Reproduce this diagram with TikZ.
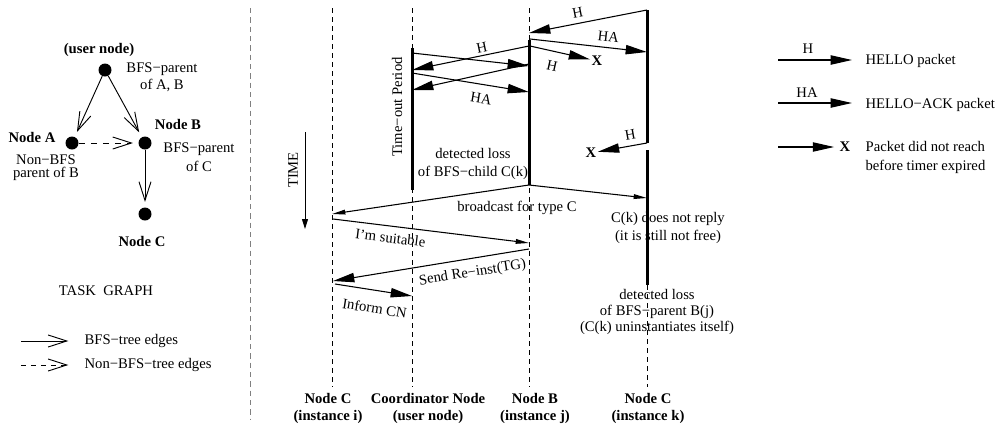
\documentclass[tikz,border=0pt]{standalone}
\usepackage{fontspec}
\setmainfont{Liberation Serif}
\usetikzlibrary{arrows.meta}
\begin{document}
\begin{tikzpicture}[x=0.75pt,y=-0.75pt,
  every node/.style={inner sep=1pt, font=\fontsize{11}{13.5}\selectfont},
  txt/.style={align=center},
  bsty/.style={align=center, font=\fontsize{11}{12.75}\selectfont\bfseries},
  tdot/.style={circle, fill=black, minimum size=9.75pt, inner sep=0pt},
  life/.style={line width=0.6pt, dash pattern=on 3.75pt off 3pt},
  act/.style={line width=2.25pt},
  msg/.style={line width=0.8pt},
  bighead/.style={msg, -{Triangle[length=16pt,width=7pt]}},
  smallhead/.style={msg, -{Triangle[length=10pt,width=3.5pt]}},
  treearrow/.style={line width=0.7pt, -{Straight Barb[length=14pt,width=9pt]}},
  sep/.style={gray, line width=0.5pt, dash pattern=on 4pt off 3pt},
]
\fill[white] (0,0) rectangle (997,426);
\useasboundingbox (0,0) rectangle (997,426);

% ---------------- task graph ----------------
\node[tdot] (u) at (105,70) {};
\node[tdot] (a) at (72,143) {};
\node[tdot] (b) at (145,143) {};
\node[tdot] (c) at (145,214) {};
\node[bsty] (ul) at (99,50) {(user node)};
\node[txt, font=\fontsize{11}{12.75}\selectfont] (ut) at (162,77.5) {BFS−parent\\of A, B};
\node[bsty] (al) at (32,137) {Node A};
\node[bsty] (bl) at (178,124) {Node B};
\node[txt, font=\fontsize{11}{10}\selectfont] (at) at (46,168) {Non−BFS\\parent of B};
\node[txt, font=\fontsize{11}{14}\selectfont] (bt) at (199,157.5) {BFS−parent\\of C};
\node[bsty] (cl) at (142,241) {Node C};
\draw[treearrow, shorten >=4pt] (u) -- (a);
\draw[treearrow, shorten >=4pt] (u) -- (b);
\draw[treearrow, shorten >=4pt, dash pattern=on 5pt off 4pt] (a) -- (b);
\draw[treearrow, shorten >=4pt] (b) -- (c);
\node (tg) at (106,291) {TASK\ \ GRAPH};

% legend left
\coordinate (l1s) at (21,341);
\coordinate (l2s) at (21,365);
\node[anchor=west] (l1t) at (83,341) {BFS−tree edges};
\node[anchor=west] (l2t) at (83,365) {Non−BFS−tree edges};
\draw[treearrow, shorten >=11pt] (l1s) -- (l1t.west);
\draw[treearrow, shorten >=11pt, dash pattern=on 4pt off 3.5pt] (l2s) -- (l2t.west);

% separator
\coordinate (sepT) at (250,8);
\coordinate (sepB) at (250,420);
\draw[sep] (sepT) -- (sepB);

% ---------------- lifelines ----------------
\coordinate (Ci-t) at (332,8);   \coordinate (Ci-b) at (332,387);
\coordinate (CO-t) at (412,8);   \coordinate (CO-b) at (412,387);
\coordinate (B-t)  at (529,8);   \coordinate (B-b)  at (529,387);
\coordinate (Ck-d) at (647,285); \coordinate (Ck-b) at (647,387);
\draw[life] (Ci-t) -- (Ci-b);
\draw[life] (CO-t) -- (CO-b);
\draw[life] (B-t) -- (B-b);
\draw[life] (Ck-d) -- (Ck-b);

\coordinate (CO-a1) at (412,48);  \coordinate (CO-a2) at (412,190);
\coordinate (B-a1)  at (529,40);  \coordinate (B-a2)  at (529,185);
\coordinate (Ck-a1) at (647,10);  \coordinate (Ck-a2) at (647,143);
\coordinate (Ck-a3) at (647,150); \coordinate (Ck-a4) at (647,285);
\draw[act] (CO-a1) -- (CO-a2);
\draw[act] (B-a1) -- (B-a2);
\draw[act] (Ck-a1) -- (Ck-a2);
\draw[act] (Ck-a3) -- (Ck-a4);

% bottom labels
\node[bsty] (li)  at (328,408.5) {Node C\\(instance i)};
\node[bsty] (lco) at (428,408.5) {Coordinator Node\\(user node)};
\node[bsty] (lb)  at (535,408.5) {Node B\\(instance j)};
\node[bsty] (lk)  at (648,408.5) {Node C\\(instance k)};

% ---------------- messages ----------------
\coordinate (m1s) at (647,10);  \coordinate (m1e) at (529,33);
\draw[bighead] (m1s) -- node[sloped, above=2.75pt, pos=0.57] (m1l) {H} (m1e);
\coordinate (m2s) at (530,39);  \coordinate (m2e) at (647,52);
\draw[bighead] (m2s) -- node[sloped, above=3pt, pos=0.66] (m2l) {HA} (m2e);
\node[font=\fontsize{11}{13}\selectfont\bfseries] (x1) at (597,61) {X};
\coordinate (m3s) at (530,46);
\draw[bighead] (m3s) -- node[sloped, below=6pt, pos=0.42] (m3l) {H} (x1);

\coordinate (m4s) at (529,46);  \coordinate (m4e) at (412,70);
\draw[bighead] (m4s) -- node[sloped, above=1pt, pos=0.39] (m4l) {H} (m4e);
\coordinate (m5s) at (412,53);  \coordinate (m5e) at (529,66);
\draw[bighead] (m5s) -- (m5e);
\coordinate (m6s) at (412,73);  \coordinate (m6e) at (529,92);
\draw[bighead] (m6s) -- node[sloped, below=5.5pt, pos=0.61] (m6l) {HA} (m6e);
\coordinate (m7s) at (529,64);  \coordinate (m7e) at (412,90);
\draw[bighead] (m7s) -- (m7e);

\node[font=\fontsize{11}{13}\selectfont\bfseries] (x2) at (591,153) {X};
\coordinate (m8s) at (647,143);
\draw[bighead] (m8s) -- node[sloped, above=3.5pt, pos=0.3] (m8l) {H} (x2);

\node[txt] (dl1) at (473,164) {detected loss\\of BFS−child C(k)};

\coordinate (bcs) at (529,185);
\coordinate (bce1) at (332,214);
\coordinate (bce2) at (647,198);
\draw[smallhead] (bcs) -- (bce1);
\draw[smallhead] (bcs) -- (bce2);
\node (bcl) at (517,208) {broadcast for type C};

\node[txt] (nr) at (668,228) {C(k) does not reply\\(it is still not free)};

\coordinate (sus) at (333,219); \coordinate (sue) at (529,243);
\draw[smallhead] (sus) -- node[sloped, below=3.5pt, pos=0.3] (sul) {I’m suitable} (sue);
\coordinate (ris) at (529,249); \coordinate (rie) at (333,281);
\draw[bighead] (ris) -- node[sloped, below=4.5pt, pos=0.3] (ril) {Send Re−inst(TG)} (rie);
\coordinate (ics) at (335,284); \coordinate (ice) at (412,296);
\draw[bighead] (ics) -- node[sloped, below=8pt, pos=0.55] (icl) {Inform CN} (ice);

\node[txt, font=\fontsize{11}{12}\selectfont] (dl2) at (657,312) {detected loss\\of BFS−parent B(j)\\(C(k) uninstantiates itself)};

\node[rotate=90] (top) at (397,107) {Time−out Period};
\node[rotate=90] (time) at (293,170) {TIME};
\coordinate (ts) at (305,132); \coordinate (te) at (305,229);
\draw[line width=0.7pt, -{Triangle[length=7.5pt,width=4.5pt]}] (ts) -- (te);

% ---------------- legend right ----------------
\coordinate (h1s) at (778,60); \coordinate (h1e) at (852,60);
\draw[bighead] (h1s) -- (h1e);
\node (h1l) at (808,49) {H};
\node[anchor=west] (h1t) at (864,61) {HELLO packet};
\coordinate (h2s) at (778,103); \coordinate (h2e) at (852,103);
\draw[bighead] (h2s) -- (h2e);
\node (h2l) at (807,93) {HA};
\node[anchor=west] (h2t) at (864,105) {HELLO−ACK packet};
\node[font=\fontsize{11}{13}\selectfont\bfseries] (x3) at (845,147) {X};
\coordinate (h3s) at (778,147);
\draw[bighead, shorten >=3pt] (h3s) -- (x3);
\node[anchor=west, align=left, font=\fontsize{11}{14}\selectfont] (h3t) at (864,157.5) {Packet did not reach\\before timer expired};
\end{tikzpicture}
\end{document}
